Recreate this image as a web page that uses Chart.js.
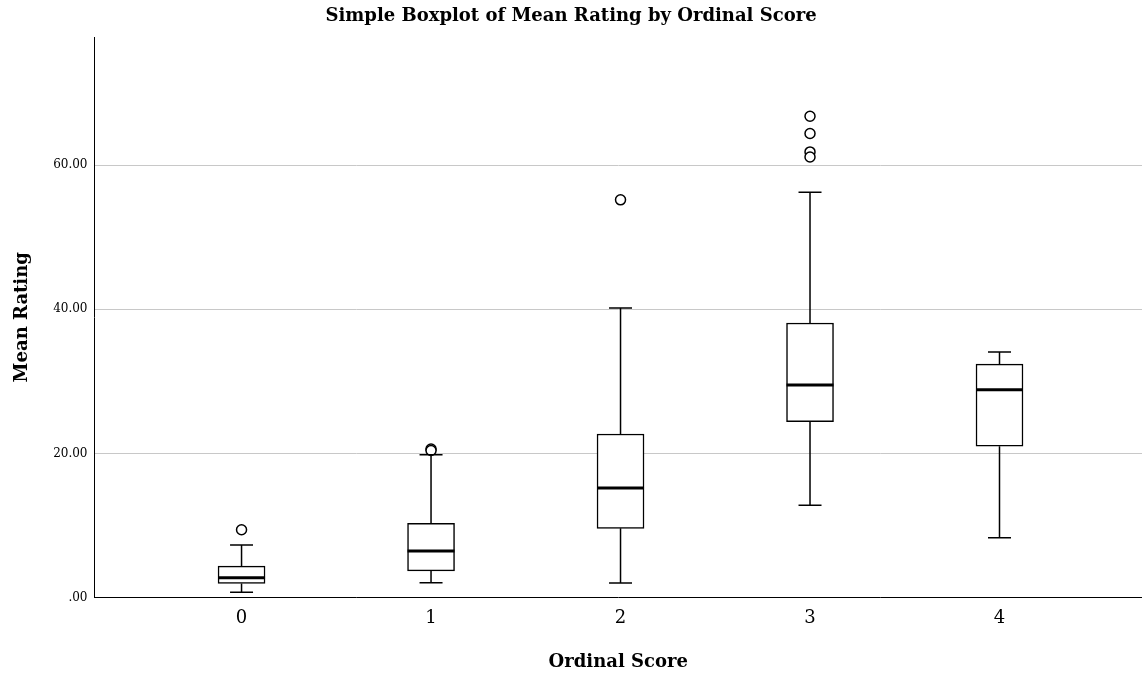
<!DOCTYPE html>
<html>
<head>
<meta charset="utf-8">
<script src="https://cdn.jsdelivr.net/npm/chart.js@4.4.1/dist/chart.umd.min.js"></script>
<style>
html,body{margin:0;padding:0;background:#fff;}
#wrap{width:1142px;height:674px;position:relative;}
</style>
</head>
<body>
<div id="wrap"><canvas id="c" width="1142" height="674"></canvas></div>
<script>
// ---- data ----
const categories = ['0', '1', '2', '3', '4'];
const whiskerLow  = [0.74, 2.05, 2.0, 12.8, 8.3];
const q1          = [1.94, 3.7, 9.6, 24.4, 21.0];
const medians     = [2.73, 6.45, 15.2, 29.5, 28.85];
const q3          = [4.35, 10.3, 22.7, 38.1, 32.4];
const whiskerHigh = [7.3, 19.8, 40.2, 56.25, 34.07];
const outliers = [
  [9.4],
  [20.6, 20.4],
  [55.2],
  [66.8, 64.4, 61.85, 61.15],
  []
];
const yTickValues = [0, 20, 40, 60];

const SERIF = '"DejaVu Serif", "Liberation Serif", serif';

const boxData = categories.map((c, i) => ({x: i, y: [q1[i], q3[i]]}));
const outlierData = [];
outliers.forEach((arr, i) => arr.forEach(v => outlierData.push({x: i, y: v})));

const whiskerPlugin = {
  id: 'whiskers',
  afterDatasetsDraw(chart) {
    const {ctx, scales: {x, y}} = chart;
    const cap = 11.5, half = 23.5;
    ctx.save();
    ctx.strokeStyle = '#000';
    categories.forEach((c, i) => {
      const px = x.getPixelForValue(i);
      ctx.lineWidth = 1.5;
      ctx.beginPath();
      ctx.moveTo(px, y.getPixelForValue(q3[i]));
      ctx.lineTo(px, y.getPixelForValue(whiskerHigh[i]));
      ctx.moveTo(px, y.getPixelForValue(q1[i]));
      ctx.lineTo(px, y.getPixelForValue(whiskerLow[i]));
      ctx.moveTo(px - cap, y.getPixelForValue(whiskerHigh[i]));
      ctx.lineTo(px + cap, y.getPixelForValue(whiskerHigh[i]));
      ctx.moveTo(px - cap, y.getPixelForValue(whiskerLow[i]));
      ctx.lineTo(px + cap, y.getPixelForValue(whiskerLow[i]));
      ctx.stroke();
      ctx.lineWidth = 3;
      ctx.beginPath();
      const my = y.getPixelForValue(medians[i]);
      ctx.moveTo(px - half, my);
      ctx.lineTo(px + half, my);
      ctx.stroke();
    });
    ctx.restore();
  }
};

new Chart(document.getElementById('c'), {
  data: {
    datasets: [
      {
        type: 'bar',
        data: boxData,
        backgroundColor: '#ffffff',
        borderColor: '#000000',
        borderWidth: 1.5,
        borderSkipped: false,
        barThickness: 47,
        order: 2
      },
      {
        type: 'scatter',
        data: outlierData,
        pointStyle: 'circle',
        pointRadius: 5,
        pointBackgroundColor: '#ffffff',
        pointBorderColor: '#000000',
        pointBorderWidth: 1.5,
        order: 1
      }
    ]
  },
  options: {
    responsive: false,
    animation: false,
    layout: {autoPadding: false, padding: {left: 0, right: 0, top: 0, bottom: 0}},
    plugins: {
      legend: {display: false},
      tooltip: {enabled: false},
      title: {
        display: true,
        text: 'Simple Boxplot of Mean Rating by Ordinal Score',
        color: '#000',
        font: {family: SERIF, size: 18, weight: 'bold', lineHeight: 1.2},
        padding: {top: 5.5, bottom: 9.9}
      }
    },
    scales: {
      x: {
        type: 'linear',
        offset: false,
        min: -0.776,
        max: 4.752,
        afterBuildTicks: s => { s.ticks = categories.map((c, i) => ({value: i})); },
        afterFit: s => { s.height = 76.5; s.paddingLeft = 0; s.paddingRight = 0; },
        grid: {display: false, drawTicks: false, offset: false},
        border: {display: true, color: '#000', width: 1},
        ticks: {
          color: '#000',
          padding: 10,
          maxRotation: 0,
          autoSkip: false,
          font: {family: SERIF, size: 18},
          callback: v => categories[v]
        },
        title: {
          display: true,
          text: 'Ordinal Score',
          color: '#000',
          font: {family: SERIF, size: 18, weight: 'bold', lineHeight: 1.2},
          padding: {top: 0, bottom: 1}
        }
      },
      y: {
        type: 'linear',
        min: 0,
        max: 77.8,
        afterBuildTicks: s => { s.ticks = yTickValues.map(v => ({value: v})); },
        afterFit: s => { s.width = 94.5; },
        grid: {
          drawTicks: false,
          color: ctx => (ctx.tick && ctx.tick.value === 0) ? 'rgba(0,0,0,0)' : '#c8c8c8',
          lineWidth: 1
        },
        border: {display: true, color: '#000', width: 1},
        ticks: {
          color: '#000',
          padding: 7,
          font: {family: SERIF, size: 12},
          callback: v => v === 0 ? '.00' : v.toFixed(2)
        },
        title: {
          display: true,
          text: 'Mean Rating',
          color: '#000',
          font: {family: SERIF, size: 18, weight: 'bold', lineHeight: 1.2},
          padding: {top: 11.5, bottom: 0}
        }
      }
    }
  },
  plugins: [whiskerPlugin]
});
</script>
</body>
</html>
